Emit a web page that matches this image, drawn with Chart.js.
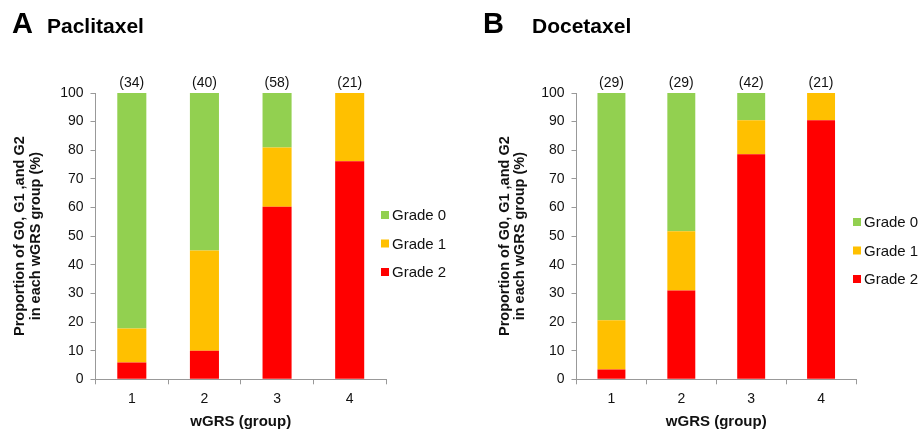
<!DOCTYPE html>
<html>
<head>
<meta charset="utf-8">
<script src="https://cdn.jsdelivr.net/npm/chart.js@4/dist/chart.umd.min.js"></script>
<style>
  body { margin: 0; background: #fff; }
  #wrap { position: relative; width: 921px; height: 431px; }
  canvas { position: absolute; top: 0; }
</style>
</head>
<body>
<div id="wrap">
  <canvas id="pac" width="460" height="431" style="left:0"></canvas>
  <canvas id="doc" width="461" height="431" style="left:460px"></canvas>
</div>
<script>
const groups = ['1', '2', '3', '4']
const gradeLabels = ['Grade 0', 'Grade 1', 'Grade 2']
const gradeColors = ['#92D050', '#FFC000', '#FF0000']

// Paclitaxel, % of patients per wGRS group
const pacCounts = [34, 40, 58, 21]
const pacGrade0 = [82.3, 55.0, 19.0, 0]
const pacGrade1 = [11.8, 35.0, 20.7, 23.8]
const pacGrade2 = [5.9, 10.0, 60.3, 76.2]

// Docetaxel
const docCounts = [29, 29, 42, 21]
const docGrade0 = [79.4, 48.3, 9.5, 0]
const docGrade1 = [17.2, 20.7, 11.9, 9.5]
const docGrade2 = [3.4, 31.0, 78.6, 90.5]

const yTitle = ['Proportion of G0, G1 ,and G2', 'in each wGRS group (%)']
const xTitle = 'wGRS (group)'

const fontFamily = "'Liberation Sans', Arial, Helvetica, sans-serif"
Chart.defaults.font.family = fontFamily
Chart.defaults.color = '#111'

// counts above bars, legend and panel heading
const decor = {
  id: 'decor',
  afterDraw(chart, args, opts) {
    const ctx = chart.ctx
    const x = chart.scales.x
    const y = chart.scales.y
    ctx.save()
    ctx.fillStyle = '#111'
    ctx.font = '14px ' + fontFamily
    ctx.textAlign = 'center'
    ctx.textBaseline = 'middle'
    opts.counts.forEach(function(n, i) {
      ctx.fillText('(' + n + ')', x.getPixelForValue(i), y.getPixelForValue(100) - 10)
    })

    var items = chart.data.datasets.slice().reverse()
    ctx.textAlign = 'left'
    ctx.font = '15px ' + fontFamily
    items.forEach(function(ds, i) {
      var cy = opts.legendY + i * opts.legendGap
      ctx.fillStyle = ds.backgroundColor
      ctx.fillRect(opts.legendX, cy - 4, 8, 8)
      ctx.fillStyle = '#111'
      ctx.fillText(ds.label, opts.legendX + 11, cy + 1)
    })

    ctx.textBaseline = 'alphabetic'
    ctx.fillStyle = '#000'
    ctx.font = 'bold 29px ' + fontFamily
    ctx.fillText(opts.letter, opts.letterX, 33)
    ctx.font = 'bold 21px ' + fontFamily
    ctx.fillText(opts.drug, opts.drugX, 33)
    ctx.restore()
  }
}

function makeChart(id, g0, g1, g2, decorOpts, lay) {
  var datasets = [
    { label: gradeLabels[2], data: g2, backgroundColor: gradeColors[2] },
    { label: gradeLabels[1], data: g1, backgroundColor: gradeColors[1] },
    { label: gradeLabels[0], data: g0, backgroundColor: gradeColors[0] }
  ]
  return new Chart(document.getElementById(id), {
    type: 'bar',
    data: { labels: groups, datasets: datasets },
    plugins: [decor],
    options: {
      responsive: false,
      animation: false,
      datasets: { bar: { categoryPercentage: 1, barPercentage: 0.4 } },
      layout: { padding: { left: 0, right: lay.right, top: 93, bottom: 0 } },
      plugins: {
        legend: { display: false },
        tooltip: { enabled: false },
        decor: decorOpts
      },
      scales: {
        x: {
          stacked: true,
          grid: { drawOnChartArea: false, color: '#999', tickLength: 5 },
          border: { color: '#999' },
          ticks: { font: { size: 14 }, padding: 6, color: '#111' },
          title: { display: true, text: xTitle, font: { size: 15, weight: 'bold' }, padding: { top: 2, bottom: 0 }, color: '#111' },
          afterFit: function(s) { s.height = 51.7 }
        },
        y: {
          stacked: true,
          min: 0,
          max: 100,
          grid: { drawOnChartArea: false, color: '#999', tickLength: 5 },
          border: { color: '#999' },
          ticks: { stepSize: 10, font: { size: 14 }, padding: 7, color: '#111' },
          title: { display: true, text: yTitle, font: { size: 14.5, weight: 'bold', lineHeight: 1.07 }, padding: { top: lay.titlePad, bottom: 0 }, color: '#111' },
          afterFit: function(s) { s.width = lay.yWidth }
        }
      }
    }
  })
}

makeChart('pac', pacGrade0, pacGrade1, pacGrade2,
  { counts: pacCounts, legendX: 381, legendY: 215, legendGap: 28.5, letter: 'A', letterX: 12, drug: 'Paclitaxel', drugX: 47 },
  { right: 74, yWidth: 95.5, titlePad: 12.3 })

makeChart('doc', docGrade0, docGrade1, docGrade2,
  { counts: docCounts, legendX: 393, legendY: 222, legendGap: 28.5, letter: 'B', letterX: 23, drug: 'Docetaxel', drugX: 72 },
  { right: 65, yWidth: 116.5, titlePad: 37 })
</script>
</body>
</html>
